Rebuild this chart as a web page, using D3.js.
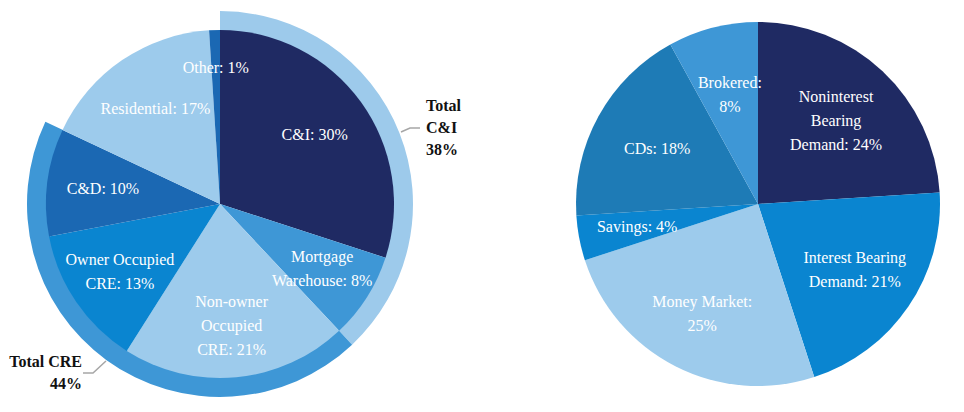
<!DOCTYPE html>
<html>
<head>
<meta charset="utf-8">
<script src="https://cdn.jsdelivr.net/npm/d3@7"></script>
<style>
  body { margin: 0; background: #fff; }
</style>
</head>
<body>
<div id="chart"></div>
<script>

// loans (left pie)
var loanNames = ["C&I", "Mortgage Warehouse", "Non-owner Occupied CRE", "Owner Occupied CRE", "C&D", "Residential", "Other"];
var loanValues = [30, 8, 21, 13, 10, 17, 1];
var loanLabels = [["C&I: 30%"], ["Mortgage", "Warehouse: 8%"], ["Non-owner", "Occupied", "CRE: 21%"],
                  ["Owner Occupied", "CRE: 13%"], ["C&D: 10%"], ["Residential: 17%"], ["Other: 1%"]];
var loanColors = ["#1f2a63", "#3e97d6", "#9dcbec", "#0a85d0", "#1b68b3", "#9dcbec", "#1b68b3"];

// totals around the left pie
var groupNames = ["Total C&I", "Total CRE"];
var groupValues = [38, 44];
var groupStart = [0, 38];          // percent of the pie where each ring begins
var groupColors = ["#9dcaeb", "#3e97d6"];

// deposits (right pie)
var depositNames = ["Noninterest Bearing Demand", "Interest Bearing Demand", "Money Market", "Savings", "CDs", "Brokered"];
var depositValues = [24, 21, 25, 4, 18, 8];
var depositLabels = [["Noninterest", "Bearing", "Demand: 24%"], ["Interest Bearing", "Demand: 21%"],
                     ["Money Market:", "25%"], ["Savings: 4%"], ["CDs: 18%"], ["Brokered:", "8%"]];
var depositColors = ["#1f2a63", "#0a85d0", "#9dcbec", "#0a85d0", "#1e7bb6", "#3e97d6"];

var width = 964, height = 412;
var serif = "'Liberation Serif', 'Times New Roman', 'DejaVu Serif', serif";

var svg = d3.select("#chart").append("svg")
    .attr("width", width)
    .attr("height", height)
    .attr("font-family", serif);

var pie = d3.pie().sort(null).value(function(d) { return d; });

function drawPie(cx, cy, r, values, colors, labels, labelR) {
    var g = svg.append("g").attr("transform", "translate(" + cx + "," + cy + ")");
    var arc = d3.arc().innerRadius(0).outerRadius(r);
    var arcs = pie(values);

    g.selectAll("path.slice")
        .data(arcs)
        .enter().append("path")
        .attr("class", "slice")
        .attr("d", arc)
        .attr("fill", function(d, i) { return colors[i]; });

    arcs.forEach(function(d, i) {
        var lr = labelR[i];
        var pos = d3.arc().innerRadius(lr).outerRadius(lr).centroid(d);
        var lines = labels[i];
        var t = g.append("text")
            .attr("text-anchor", "middle")
            .attr("fill", "#fff")
            .attr("font-family", serif)
            .attr("font-size", 16)
            .attr("x", pos[0])
            .attr("y", pos[1] - (lines.length - 1) * 12 + 5);
        lines.forEach(function(line, k) {
            t.append("tspan")
                .attr("x", pos[0])
                .attr("dy", k === 0 ? 0 : 24)
                .text(line);
        });
    });
    return g;
}

// left pie with its rings
var lcx = 220, lcy = 204, lr = 174;
var angle = d3.scaleLinear().domain([0, 100]).range([0, 2 * Math.PI]);
var ringArc = d3.arc().innerRadius(lr - 1).outerRadius(lr + 19);

var lg = svg.append("g").attr("transform", "translate(" + lcx + "," + lcy + ")");
lg.selectAll("path.ring")
    .data(groupValues)
    .enter().append("path")
    .attr("class", "ring")
    .attr("d", function(d, i) {
        return ringArc({startAngle: angle(groupStart[i]), endAngle: angle(groupStart[i] + d)});
    })
    .attr("fill", function(d, i) { return groupColors[i]; });

drawPie(lcx, lcy, lr, loanValues, loanColors, loanLabels, [117, 121, 123, 121, 118, 115, 136]);

// leader lines and ring captions
var lead = d3.line();
svg.append("path")
    .attr("d", lead([[401, 132], [410, 128], [420, 128]]))
    .attr("fill", "none").attr("stroke", "#a6a6a6").attr("stroke-width", 1.5);
svg.append("path")
    .attr("d", lead([[106, 361], [93, 373], [83, 373]]))
    .attr("fill", "none").attr("stroke", "#a6a6a6").attr("stroke-width", 1.5);

var ciText = svg.append("text")
    .attr("font-family", serif)
    .attr("font-size", 16).attr("font-weight", "bold").attr("fill", "#111")
    .attr("x", 426).attr("y", 111);
["Total", "C&I", groupValues[0] + "%"].forEach(function(line, k) {
    ciText.append("tspan").attr("x", 426).attr("dy", k === 0 ? 0 : 22).text(line);
});

var creText = svg.append("text")
    .attr("font-family", serif)
    .attr("font-size", 16).attr("font-weight", "bold").attr("fill", "#111")
    .attr("text-anchor", "end")
    .attr("x", 82).attr("y", 367);
[groupNames[1], groupValues[1] + "%"].forEach(function(line, k) {
    creText.append("tspan").attr("x", 82).attr("dy", k === 0 ? 0 : 22).text(line);
});

// right pie
drawPie(758, 204, 182, depositValues, depositColors, depositLabels, [114, 117, 123, 123, 115, 113]);

</script>
</body>
</html>
